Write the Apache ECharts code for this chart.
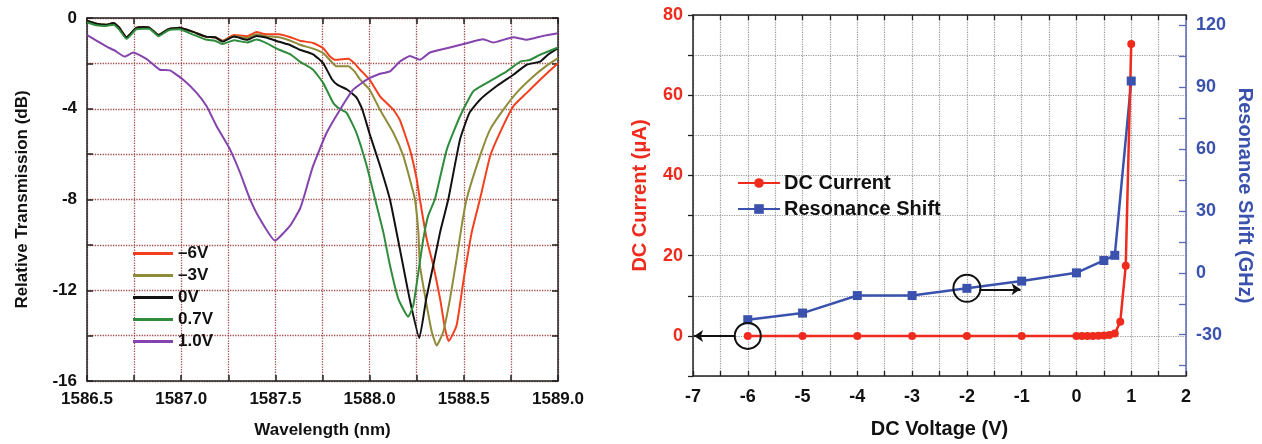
<!DOCTYPE html>
<html>
<head>
<meta charset="utf-8">
<script src="https://cdn.jsdelivr.net/npm/echarts@6/dist/echarts.min.js"></script>
<style>
  html, body { margin: 0; padding: 0; background: #fff; }
  #chart { width: 1262px; height: 444px; }
</style>
</head>
<body>
<div id="chart"></div>
<script>
// ---- left panel: transmission spectra ----
var wlMinus6 = [1586.50, 1586.55, 1586.60, 1586.64, 1586.67, 1586.71, 1586.76, 1586.80, 1586.83, 1586.88, 1586.93, 1586.99, 1587.06, 1587.13, 1587.18, 1587.22, 1587.28, 1587.35, 1587.40, 1587.45, 1587.52, 1587.58, 1587.63, 1587.70, 1587.754, 1587.79, 1587.816, 1587.85, 1587.887, 1587.92, 1587.95, 1588.0, 1588.055, 1588.126, 1588.161, 1588.214, 1588.25, 1588.267, 1588.303, 1588.338, 1588.374, 1588.40, 1588.42, 1588.462, 1588.497, 1588.542, 1588.586, 1588.64, 1588.692, 1588.763, 1588.834, 1588.905, 1589.0];
var dbMinus6 = [-0.12, -0.25, -0.3, -0.22, -0.42, -0.85, -0.45, -0.4, -0.42, -0.75, -0.5, -0.43, -0.6, -0.82, -0.85, -1.0, -0.75, -0.8, -0.62, -0.72, -0.72, -0.85, -1.0, -1.1, -1.33, -1.7, -1.84, -1.82, -1.8, -2.0, -2.28, -2.72, -3.45, -4.04, -4.5, -5.8, -7.1, -8.0, -9.74, -10.9, -12.37, -13.68, -14.24, -13.54, -11.64, -9.45, -7.98, -6.08, -5.05, -3.89, -3.3, -2.72, -1.99];

var wlMinus3 = [1586.50, 1586.55, 1586.60, 1586.64, 1586.67, 1586.71, 1586.76, 1586.80, 1586.83, 1586.88, 1586.93, 1586.99, 1587.06, 1587.13, 1587.18, 1587.22, 1587.28, 1587.35, 1587.40, 1587.45, 1587.52, 1587.58, 1587.63, 1587.70, 1587.754, 1587.80, 1587.825, 1587.887, 1587.92, 1587.95, 1588.0, 1588.055, 1588.126, 1588.179, 1588.223, 1588.241, 1588.259, 1588.267, 1588.303, 1588.33, 1588.356, 1588.391, 1588.427, 1588.462, 1588.489, 1588.515, 1588.586, 1588.64, 1588.71, 1588.78, 1588.87, 1588.94, 1589.0];
var dbMinus3 = [-0.12, -0.25, -0.3, -0.22, -0.42, -0.85, -0.45, -0.4, -0.42, -0.75, -0.5, -0.43, -0.6, -0.82, -0.85, -1.02, -0.8, -0.88, -0.72, -0.8, -0.85, -1.0, -1.18, -1.35, -1.55, -1.95, -2.13, -2.13, -2.35, -2.72, -3.16, -4.04, -5.06, -6.08, -7.4, -8.0, -9.45, -10.9, -12.66, -13.83, -14.44, -13.83, -12.37, -10.61, -9.15, -7.98, -6.08, -4.91, -4.04, -3.3, -2.57, -2.1, -1.77];

var wl0 = [1586.50, 1586.55, 1586.60, 1586.64, 1586.67, 1586.71, 1586.76, 1586.80, 1586.83, 1586.88, 1586.93, 1586.99, 1587.06, 1587.13, 1587.18, 1587.22, 1587.28, 1587.35, 1587.40, 1587.45, 1587.52, 1587.58, 1587.63, 1587.70, 1587.754, 1587.80, 1587.83, 1587.88, 1587.93, 1587.96, 1588.0, 1588.055, 1588.108, 1588.161, 1588.213, 1588.264, 1588.30, 1588.338, 1588.374, 1588.418, 1588.48, 1588.53, 1588.586, 1588.675, 1588.763, 1588.834, 1588.905, 1588.95, 1589.0];
var db0 = [-0.12, -0.25, -0.3, -0.22, -0.42, -0.85, -0.45, -0.4, -0.42, -0.75, -0.5, -0.43, -0.6, -0.82, -0.85, -1.04, -0.82, -0.96, -0.79, -0.86, -1.05, -1.2, -1.4, -1.6, -2.0, -2.7, -2.95, -3.15, -3.5, -4.0, -5.1, -6.5, -8.0, -10.2, -12.4, -14.1, -12.4, -10.9, -9.45, -7.98, -5.35, -4.18, -3.6, -3.0, -2.5, -2.06, -1.92, -1.6, -1.33];

var wl07 = [1586.50, 1586.55, 1586.60, 1586.64, 1586.67, 1586.71, 1586.76, 1586.80, 1586.83, 1586.88, 1586.93, 1586.99, 1587.06, 1587.13, 1587.18, 1587.22, 1587.28, 1587.35, 1587.40, 1587.45, 1587.52, 1587.58, 1587.63, 1587.70, 1587.754, 1587.807, 1587.84, 1587.878, 1587.93, 1587.985, 1588.029, 1588.073, 1588.108, 1588.152, 1588.205, 1588.232, 1588.259, 1588.285, 1588.311, 1588.347, 1588.41, 1588.48, 1588.55, 1588.62, 1588.728, 1588.80, 1588.85, 1588.905, 1589.0];
var db07 = [-0.2, -0.32, -0.35, -0.3, -0.5, -0.92, -0.5, -0.47, -0.47, -0.8, -0.55, -0.5, -0.72, -0.95, -1.0, -1.15, -0.98, -1.08, -0.95, -1.1, -1.4, -1.6, -1.92, -2.28, -2.87, -3.74, -4.0, -4.18, -5.06, -6.52, -7.98, -9.45, -10.9, -12.37, -13.17, -12.66, -11.2, -9.74, -8.71, -7.98, -5.79, -4.33, -3.23, -2.87, -2.35, -1.92, -1.85, -1.62, -1.3];

var wl10 = [1586.50, 1586.55, 1586.605, 1586.65, 1586.70, 1586.746, 1586.817, 1586.887, 1586.94, 1587.011, 1587.082, 1587.135, 1587.188, 1587.259, 1587.312, 1587.365, 1587.418, 1587.498, 1587.578, 1587.63, 1587.648, 1587.70, 1587.772, 1587.843, 1587.913, 1587.985, 1588.055, 1588.108, 1588.161, 1588.214, 1588.267, 1588.32, 1588.41, 1588.515, 1588.603, 1588.656, 1588.763, 1588.834, 1588.92, 1589.0];
var db10 = [-0.75, -1.0, -1.26, -1.45, -1.7, -1.52, -1.81, -2.28, -2.31, -2.72, -3.3, -3.89, -4.77, -5.79, -6.81, -7.98, -8.86, -9.81, -9.15, -8.42, -7.98, -6.52, -5.06, -4.04, -3.16, -2.72, -2.46, -2.35, -1.92, -1.67, -1.84, -1.52, -1.33, -1.11, -0.94, -1.08, -0.85, -0.96, -0.79, -0.67];

var spectraNames = ['\u20136V', '\u20133V', '0V', '0.7V', '1.0V'];
var spectraColors = ['#f2401f', '#8e8c3a', '#111111', '#2f8c3c', '#8443ad'];

// ---- right panel: DC sweep ----
var currentVolts = [-6, -5, -4, -3, -2, -1, 0, 0.1, 0.2, 0.3, 0.4, 0.5, 0.6, 0.7, 0.8, 0.9, 1.0];
var currentUA = [0, 0, 0, 0, 0, 0, 0, 0, 0, 0, 0.05, 0.1, 0.2, 0.6, 3.5, 17.5, 72.8];
var shiftVolts = [-6, -5, -4, -3, -2, -1, 0, 0.5, 0.7, 1.0];
var shiftGHz = [-22.7, -19.5, -11, -11, -7.5, -4, 0, 6, 8.5, 93];
var shiftTicks = [-45, -30, -15, 0, 15, 30, 45, 60, 75, 90, 105, 120];
var shiftLabels = [-30, 0, 30, 60, 90, 120];

function zip(xs, ys) {
  return xs.map(function (x, i) { return [x, ys[i]]; });
}

var FONT = '"Liberation Sans", Arial, sans-serif';
var RED = '#ee2b1d';
var BLUE = '#3a52ae';
var GRIDRED = '#a34a4a';

var chart = echarts.init(document.getElementById('chart'));

var spectra = [
  [wlMinus6, dbMinus6], [wlMinus3, dbMinus3], [wl0, db0], [wl07, db07], [wl10, db10]
];

var series = spectra.map(function (s, i) {
  return {
    name: spectraNames[i],
    type: 'line',
    xAxisIndex: 0,
    yAxisIndex: 0,
    symbol: 'none',
    smooth: 0.15,
    data: zip(s[0], s[1]),
    lineStyle: { width: 2, color: spectraColors[i] },
    itemStyle: { color: spectraColors[i] }
  };
});

series.push({
  name: 'Resonance Shift',
  type: 'line',
  xAxisIndex: 2,
  yAxisIndex: 3,
  symbol: 'rect',
  symbolSize: 9,
  data: zip(shiftVolts, shiftGHz),
  lineStyle: { width: 2.5, color: BLUE },
  itemStyle: { color: BLUE },
  markPoint: {
    silent: true,
    data: [{ coord: [-2, -7.5], symbol: 'circle', symbolSize: 27,
      itemStyle: { color: 'rgba(0,0,0,0)', borderColor: '#111', borderWidth: 2 }, label: { show: false } }]
  },
  markLine: {
    silent: true,
    symbol: ['none', 'arrow'],
    symbolSize: 9,
    label: { show: false },
    lineStyle: { color: '#111', width: 2, type: 'solid' },
    data: [[{ coord: [-1.77, -8] }, { coord: [-1.02, -8] }]]
  }
});

series.push({
  name: 'DC Current',
  type: 'line',
  xAxisIndex: 2,
  yAxisIndex: 2,
  symbol: 'circle',
  symbolSize: 8,
  data: zip(currentVolts, currentUA),
  lineStyle: { width: 2.5, color: RED },
  itemStyle: { color: RED },
  markPoint: {
    silent: true,
    data: [{ coord: [-6, 0], symbol: 'circle', symbolSize: 26,
      itemStyle: { color: 'rgba(0,0,0,0)', borderColor: '#111', borderWidth: 2 }, label: { show: false } }]
  },
  markLine: {
    silent: true,
    symbol: ['none', 'arrow'],
    symbolSize: 9,
    label: { show: false },
    lineStyle: { color: '#111', width: 2, type: 'solid' },
    data: [[{ coord: [-6.23, 0] }, { coord: [-6.98, 0] }]]
  }
});

var boldText = { fontFamily: FONT, fontWeight: 'bold', color: '#111' };
var darkLine = { onZero: false, lineStyle: { color: '#222', width: 1.5 } };

var option = {
  animation: false,
  textStyle: { fontFamily: FONT },
  grid: [
    { left: 87, top: 18, width: 471, height: 365, show: false },
    { left: 693, top: 15, width: 493, height: 364, show: false }
  ],
  legend: [
    {
      data: spectraNames,
      orient: 'vertical',
      left: 128,
      top: 240,
      icon: 'rect',
      itemWidth: 40,
      itemHeight: 3,
      itemGap: 5,
      textStyle: { fontFamily: FONT, fontWeight: 'bold', fontSize: 17, color: '#111' }
    },
    {
      data: ['DC Current', 'Resonance Shift'],
      orient: 'vertical',
      left: 732,
      top: 168,
      itemWidth: 42,
      itemHeight: 12,
      itemGap: 6,
      textStyle: { fontFamily: FONT, fontWeight: 'bold', fontSize: 20, color: '#111', padding: [0, 0, 0, -1] }
    }
  ],
  xAxis: [
    {
      gridIndex: 0, type: 'value', position: 'bottom',
      min: 1586.5, max: 1589, interval: 0.25,
      name: 'Wavelength (nm)', nameLocation: 'middle', nameGap: 41,
      nameTextStyle: Object.assign({ fontSize: 17 }, boldText),
      axisLine: darkLine,
      axisTick: { inside: true, length: 6, lineStyle: { color: '#222', width: 1.5 } },
      axisLabel: Object.assign({ fontSize: 17, margin: 10, formatter: function (v) {
        return (Math.round(v * 4) % 2 === 0) ? v.toFixed(1) : '';
      } }, boldText),
      splitLine: { show: true, lineStyle: { type: 'dotted', color: GRIDRED, width: 1.3 } }
    },
    {
      gridIndex: 0, type: 'value', position: 'top',
      min: 1586.5, max: 1589, interval: 0.25,
      axisLine: darkLine,
      axisTick: { inside: true, length: 6, lineStyle: { color: '#222', width: 1.5 } },
      axisLabel: { show: false },
      splitLine: { show: false }
    },
    {
      gridIndex: 1, type: 'value', position: 'bottom',
      min: -7, max: 2, interval: 0.5,
      name: 'DC Voltage (V)', nameLocation: 'middle', nameGap: 43,
      nameTextStyle: Object.assign({ fontSize: 20 }, boldText),
      axisLine: darkLine,
      axisTick: { inside: true, length: 5, lineStyle: { color: '#222', width: 1.3 } },
      axisLabel: Object.assign({ fontSize: 18, margin: 12, formatter: function (v) {
        return Number.isInteger(v) ? String(v) : '';
      } }, boldText),
      splitLine: { show: true, lineStyle: { type: 'dotted', color: '#9a9a9a', width: 1.2 } }
    },
    {
      gridIndex: 1, type: 'value', position: 'top',
      min: -7, max: 2, interval: 0.5,
      axisLine: darkLine,
      axisTick: { inside: true, length: 5, lineStyle: { color: '#222', width: 1.3 } },
      axisLabel: { show: false },
      splitLine: { show: false }
    }
  ],
  yAxis: [
    {
      gridIndex: 0, type: 'value', position: 'left',
      min: -16, max: 0, interval: 2,
      name: 'Relative Transmission (dB)', nameLocation: 'middle', nameGap: 56,
      nameTextStyle: Object.assign({ fontSize: 17 }, boldText),
      axisLine: darkLine,
      axisTick: { inside: true, length: 6, lineStyle: { color: '#222', width: 1.5 } },
      axisLabel: Object.assign({ fontSize: 17, margin: 10, formatter: function (v) {
        return (v % 4 === 0) ? String(v) : '';
      } }, boldText),
      splitLine: { show: true, lineStyle: { type: 'dotted', color: GRIDRED, width: 1.3 } }
    },
    {
      gridIndex: 0, type: 'value', position: 'right',
      min: -16, max: 0, interval: 2,
      axisLine: darkLine,
      axisTick: { inside: true, length: 6, lineStyle: { color: '#222', width: 1.5 } },
      axisLabel: { show: false },
      splitLine: { show: false }
    },
    {
      gridIndex: 1, type: 'value', position: 'left',
      min: -10, max: 80, interval: 10,
      name: 'DC Current (\u03bcA)', nameLocation: 'middle', nameGap: 43,
      nameTextStyle: { fontFamily: FONT, fontWeight: 'bold', fontSize: 20, color: RED },
      axisLine: darkLine,
      axisTick: { inside: false, length: 5, lineStyle: { color: '#222', width: 1.3 } },
      axisLabel: { fontFamily: FONT, fontWeight: 'bold', fontSize: 18, color: RED, margin: 10,
        formatter: function (v) { return (v >= 0 && v % 20 === 0) ? String(v) : ''; } },
      splitLine: { show: true, lineStyle: { type: 'dotted', color: '#9a9a9a', width: 1.2 } }
    },
    {
      gridIndex: 1, type: 'value', position: 'right',
      min: -50, max: 125,
      name: 'Resonance Shift (GHz)', nameLocation: 'middle', nameGap: 49, nameRotate: -90,
      nameTextStyle: { fontFamily: FONT, fontWeight: 'bold', fontSize: 20, color: BLUE },
      axisLine: { onZero: false, lineStyle: { color: '#5c68b8', width: 1.5 } },
      axisTick: { inside: true, length: 7, customValues: shiftTicks, lineStyle: { color: '#5c68b8', width: 1.3 } },
      axisLabel: { fontFamily: FONT, fontWeight: 'bold', fontSize: 18, color: BLUE, margin: 10,
        customValues: shiftLabels },
      splitLine: { show: false }
    }
  ],
  series: series
};

chart.setOption(option);
</script>
</body>
</html>
